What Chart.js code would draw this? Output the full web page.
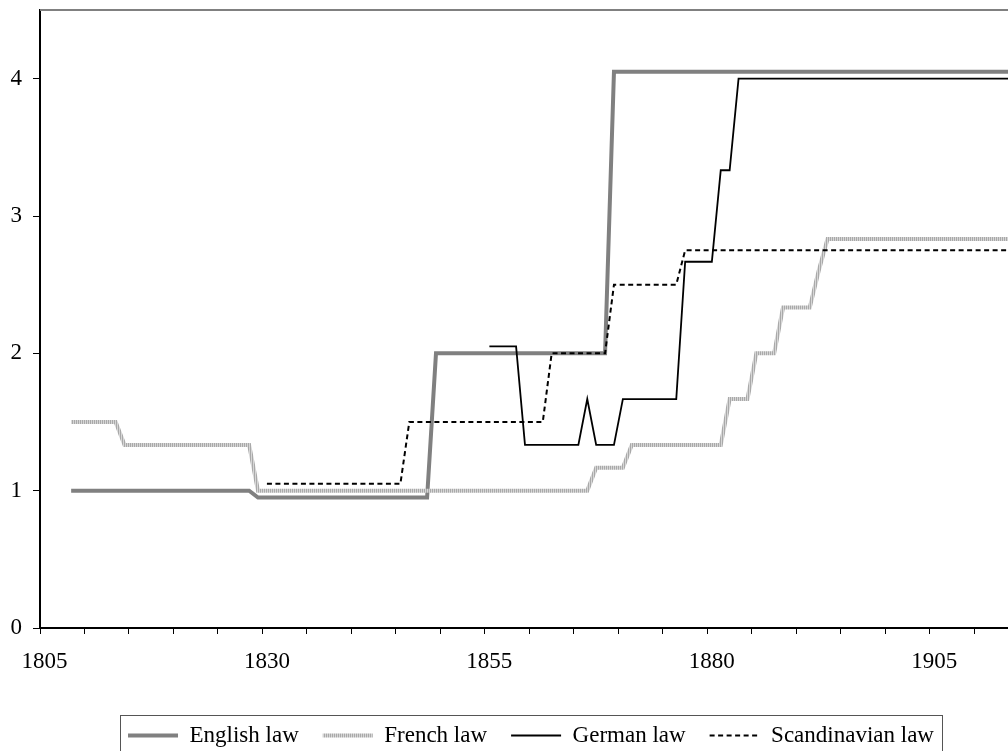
<!DOCTYPE html>
<html>
<head>
<meta charset="utf-8">
<script src="https://cdn.jsdelivr.net/npm/chart.js@4"></script>
<style>
  html, body { margin: 0; padding: 0; background: #fff; overflow: hidden; }
  canvas { display: block; }
</style>
</head>
<body>
<canvas id="lawChart" width="1008" height="751"></canvas>
<script>
// index values by year, only the years where a series changes level
const englishYears = [1808, 1828, 1829, 1848, 1849, 1868, 1869, 1915];
const englishValues = [1, 1, 0.95, 0.95, 2, 2, 4.05, 4.05];

const frenchYears = [1808, 1813, 1814, 1828, 1829, 1866, 1867, 1870, 1871, 1881, 1882, 1884, 1885, 1887, 1888, 1891, 1892, 1893, 1915];
const frenchValues = [1.5, 1.5, 1.333, 1.333, 1, 1, 1.167, 1.167, 1.333, 1.333, 1.667, 1.667, 2, 2, 2.333, 2.333, 2.6, 2.833, 2.833];

const germanYears = [1855, 1858, 1859, 1865, 1866, 1867, 1869, 1870, 1876, 1877, 1880, 1881, 1882, 1883, 1915];
const germanValues = [2.05, 2.05, 1.333, 1.333, 1.667, 1.333, 1.333, 1.667, 1.667, 2.667, 2.667, 3.333, 3.333, 4, 4];

const scandinavianYears = [1830, 1845, 1846, 1861, 1862, 1868, 1869, 1876, 1877, 1915];
const scandinavianValues = [1.05, 1.05, 1.5, 1.5, 2, 2, 2.5, 2.5, 2.75, 2.75];

const seriesNames = ['English law', 'French law', 'German law', 'Scandinavian law'];
const xLabelYears = [1805, 1830, 1855, 1880, 1905];
const yTickValues = [0, 1, 2, 3, 4];

Chart.defaults.font.family = "'Liberation Serif', 'Times New Roman', serif";
Chart.defaults.font.size = 23;
Chart.defaults.color = '#000';

function points(years, values) {
    return years.map((yr, i) => ({ x: yr, y: values[i] }));
}

// light grey striped line like the excel "french" style
function stripePattern() {
    const c = document.createElement('canvas');
    c.width = 2;
    c.height = 2;
    const g = c.getContext('2d');
    g.fillStyle = '#d6d6d6';
    g.fillRect(0, 0, 2, 2);
    g.fillStyle = '#a9a9a9';
    g.fillRect(0, 0, 1, 2);
    return g.createPattern(c, 'repeat');
}

// the original plot runs past the right edge of the picture
const plotEdges = {
    id: 'plotEdges',
    afterDraw(chart) {
        const { ctx, chartArea } = chart;
        ctx.save();
        ctx.lineWidth = 2;
        ctx.strokeStyle = '#808080';
        ctx.beginPath();
        ctx.moveTo(chartArea.left, chartArea.top);
        ctx.lineTo(chart.width, chartArea.top);
        ctx.stroke();
        ctx.strokeStyle = '#000';
        ctx.beginPath();
        ctx.moveTo(chartArea.right - 1, chartArea.bottom);
        ctx.lineTo(chart.width, chartArea.bottom);
        ctx.stroke();
        ctx.restore();
    }
};

// legend sits off-centre in the cropped original
const legendShift = {
    id: 'legendShift',
    afterLayout(chart) {
        chart.legend.left += 27;
        chart.legend.right += 27;
    }
};

const legendFrame = {
    id: 'legendFrame',
    afterDraw(chart) {
        const boxes = chart.legend && chart.legend.legendHitBoxes;
        if (!boxes || !boxes.length) return;
        const first = boxes[0];
        const last = boxes[boxes.length - 1];
        const left = Math.round(first.left - 8) + 0.5;
        const right = Math.round(last.left + last.width + 8) + 0.5;
        const top = Math.round(first.top - 9) + 0.5;
        const bottom = Math.round(first.top + first.height + 9) + 0.5;
        const ctx = chart.ctx;
        ctx.save();
        ctx.strokeStyle = '#555';
        ctx.lineWidth = 1;
        ctx.strokeRect(left, top, right - left, bottom - top);
        ctx.restore();
    }
};

const common = {
    pointRadius: 0,
    tension: 0,
    fill: false,
    borderCapStyle: 'butt',
    borderJoinStyle: 'miter',
    clip: { left: 0, top: 10, right: 20, bottom: 10 }
};

new Chart(document.getElementById('lawChart'), {
    type: 'line',
    data: {
        datasets: [
            Object.assign({ label: seriesNames[0], data: points(englishYears, englishValues), borderColor: '#808080', borderWidth: 4, order: 3 }, common),
            Object.assign({ label: seriesNames[1], data: points(frenchYears, frenchValues), borderColor: stripePattern(), borderWidth: 4, order: 2 }, common),
            Object.assign({ label: seriesNames[2], data: points(germanYears, germanValues), borderColor: '#000', borderWidth: 1.8, order: 1 }, common),
            Object.assign({ label: seriesNames[3], data: points(scandinavianYears, scandinavianValues), borderColor: '#000', borderWidth: 2, borderDash: [5, 3.5], order: 0 }, common)
        ]
    },
    options: {
        responsive: false,
        animation: false,
        devicePixelRatio: 1,
        events: [],
        layout: { padding: { top: 10, left: 0, right: 0, bottom: -6 } },
        plugins: {
            tooltip: { enabled: false },
            legend: {
                position: 'bottom',
                labels: {
                    usePointStyle: true,
                    pointStyle: 'line',
                    pointStyleWidth: 50,
                    boxHeight: 10,
                    padding: 24,
                    color: '#000',
                    font: { size: 23 },
                    sort: (a, b) => a.datasetIndex - b.datasetIndex,
                    generateLabels: (chart) => {
                        const items = Chart.defaults.plugins.legend.labels.generateLabels(chart);
                        items.forEach(item => {
                            const ds = chart.data.datasets[item.datasetIndex];
                            item.lineWidth = ds.borderWidth;
                            item.strokeStyle = ds.borderColor;
                            item.lineDash = ds.borderDash || [];
                        });
                        return items;
                    }
                }
            }
        },
        scales: {
            x: {
                type: 'linear',
                min: 1804.5,
                max: 1913.28,
                afterBuildTicks: (scale) => {
                    const ticks = [];
                    for (let v = scale.min; v <= scale.max; v += 5) ticks.push({ value: v });
                    scale.ticks = ticks;
                },
                afterFit: (scale) => {
                    scale.height = 72;
                    scale.paddingLeft = 0;
                    scale.paddingRight = 0;
                },
                grid: { display: true, drawOnChartArea: false, drawTicks: true, tickLength: 6, color: '#000', lineWidth: 1 },
                border: { display: true, color: '#000', width: 2 },
                ticks: {
                    autoSkip: false,
                    maxRotation: 0,
                    minRotation: 0,
                    padding: 14,
                    labelOffset: 4.44,
                    color: '#000',
                    font: { size: 23 },
                    callback: (v) => xLabelYears.includes(v + 0.5) ? String(v + 0.5) : ''
                }
            },
            y: {
                min: 0,
                max: 4.5,
                afterBuildTicks: (scale) => {
                    scale.ticks = yTickValues.map(v => ({ value: v }));
                },
                afterFit: (scale) => {
                    scale.width = 40;
                    scale.paddingTop = 0;
                    scale.paddingBottom = 0;
                },
                grid: { display: true, drawOnChartArea: false, drawTicks: true, tickLength: 7, color: '#000', lineWidth: 1 },
                border: { display: true, color: '#000', width: 2 },
                ticks: {
                    padding: 11,
                    color: '#000',
                    font: { size: 23 },
                    callback: (v) => String(v)
                }
            }
        }
    },
    plugins: [legendShift, plotEdges, legendFrame]
});
</script>
</body>
</html>
